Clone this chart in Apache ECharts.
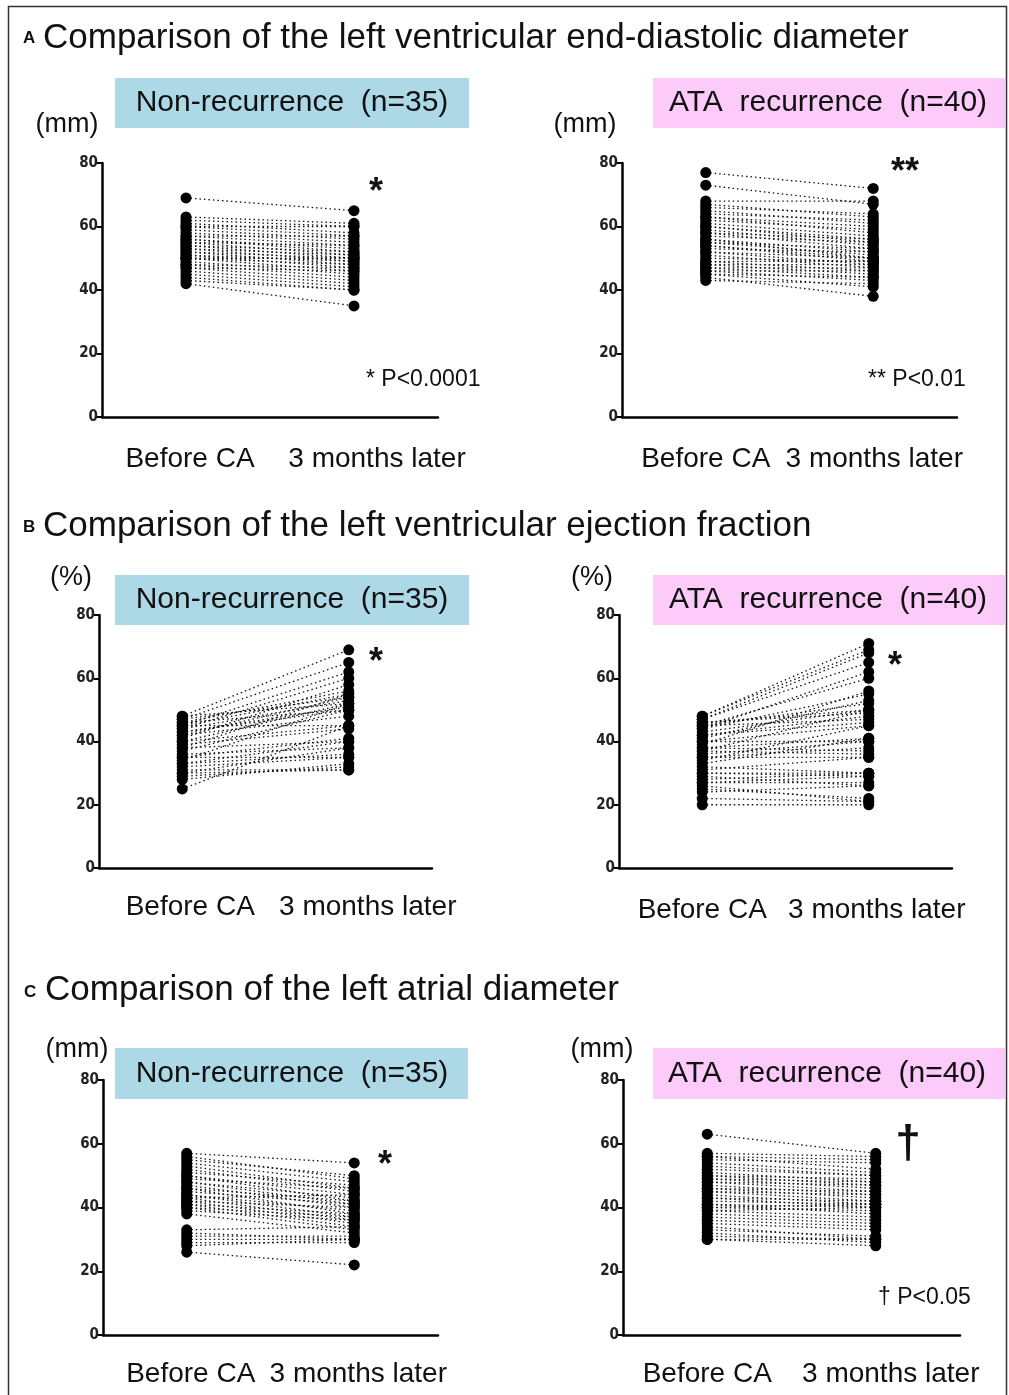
<!DOCTYPE html>
<html>
<head>
<meta charset="utf-8">
<title>LVDd, LVEF and LAD before and after CA</title>
<script src="https://cdn.jsdelivr.net/npm/echarts@6/dist/echarts.min.js"></script>
<style>
html, body { margin: 0; padding: 0; background: #fff; }
#chart { width: 1009px; height: 1395px; }
</style>
</head>
<body>
<div id="chart"></div>
<script>
// x categories and y ticks (shared by all six panels)
var groups = ['Before CA', '3 months later'];
var yMin = 0, yMax = 80, yStep = 20;

// A: LV end-diastolic diameter (mm), one value per patient, same order before / after
var lvddNonBefore = [69, 63, 62, 61, 60, 60, 59, 58, 57, 57, 56, 56, 55, 55, 54, 54, 53, 53, 52, 52, 51, 51, 50, 50, 50, 49, 48, 48, 47, 47, 46, 45, 44, 43, 42];
var lvddNonAfter  = [65, 61, 60, 58, 60, 57, 56, 55, 57, 54, 52, 53, 54, 51, 50, 52, 49, 51, 48, 50, 47, 49, 48, 46, 50, 45, 47, 44, 46, 43, 42, 41, 40, 40, 35];
var lvddAtaBefore = [77, 73, 68, 67, 66, 65, 64, 63, 63, 62, 61, 60, 60, 59, 58, 58, 57, 56, 56, 55, 55, 54, 54, 53, 52, 52, 51, 50, 49, 49, 48, 48, 47, 47, 46, 46, 45, 45, 44, 43];
var lvddAtaAfter  = [72, 67, 68, 63, 64, 61, 62, 60, 58, 59, 57, 55, 56, 54, 56, 53, 55, 52, 50, 51, 53, 49, 50, 52, 48, 50, 47, 49, 49, 46, 48, 45, 47, 44, 46, 43, 44, 41, 38, 42];

// B: LV ejection fraction (%)
var lvefNonBefore = [48, 48, 47, 47, 46, 46, 45, 45, 45, 44, 44, 43, 43, 42, 42, 41, 40, 40, 39, 38, 38, 37, 36, 35, 35, 34, 33, 33, 32, 31, 30, 30, 29, 28, 25];
var lvefNonAfter  = [69, 52, 65, 54, 50, 56, 62, 55, 45, 53, 60, 51, 50, 54, 48, 58, 45, 52, 44, 55, 40, 50, 38, 35, 41, 52, 36, 40, 35, 31, 38, 31, 32, 33, 45];
var lvefAtaBefore = [48, 48, 47, 47, 46, 46, 45, 45, 45, 44, 44, 43, 42, 42, 41, 40, 40, 39, 38, 38, 37, 37, 36, 35, 35, 34, 33, 32, 31, 30, 30, 29, 28, 27, 27, 26, 25, 24, 22, 20];
var lvefAtaAfter  = [71, 69, 68, 65, 50, 49, 60, 52, 47, 55, 62, 50, 48, 46, 53, 40, 45, 56, 37, 41, 50, 36, 40, 35, 38, 45, 41, 30, 35, 30, 29, 26, 30, 29, 27, 21, 22, 26, 21, 20];

// C: left atrial diameter (mm)
var ladNonBefore = [57, 56, 55, 54, 53, 52, 51, 50, 50, 49, 48, 48, 47, 46, 46, 45, 44, 44, 43, 43, 42, 42, 41, 41, 40, 40, 39, 38, 33, 32, 31, 30, 29, 28, 26];
var ladNonAfter  = [54, 49, 50, 48, 46, 45, 47, 44, 42, 46, 43, 41, 40, 42, 38, 41, 39, 37, 44, 36, 40, 35, 38, 34, 37, 33, 36, 32, 34, 30, 31, 30, 29, 30, 22];
var ladAtaBefore = [63, 57, 56, 56, 55, 54, 53, 52, 51, 50, 50, 49, 49, 48, 48, 47, 46, 46, 45, 45, 44, 43, 43, 42, 41, 41, 40, 40, 39, 39, 38, 37, 36, 35, 34, 33, 32, 31, 30, 30];
var ladAtaAfter  = [57, 56, 55, 52, 54, 51, 50, 50, 48, 47, 49, 48, 46, 47, 45, 44, 45, 43, 42, 44, 41, 40, 42, 41, 40, 38, 41, 39, 37, 40, 36, 35, 34, 33, 30, 31, 29, 30, 30, 28];

var sectionTitles = [
	'Comparison of the left ventricular end-diastolic diameter',
	'Comparison of the left ventricular ejection fraction',
	'Comparison of the left atrial diameter'
];
var groupTitles = ['Non-recurrence  (n=35)', 'ATA  recurrence  (n=40)'];

// panel layout: grid box, label shifts (px) for the two x labels
var panels = [
	{before: lvddNonBefore, after: lvddNonAfter, left: 102, top: 163, width: 336, height: 254, margin: 28, shift: [4, 23]},
	{before: lvddAtaBefore, after: lvddAtaAfter, left: 622, top: 163, width: 335, height: 254, margin: 28, shift: [0, 1]},
	{before: lvefNonBefore, after: lvefNonAfter, left: 99, top: 615, width: 333, height: 253, margin: 25, shift: [8, 19]},
	{before: lvefAtaBefore, after: lvefAtaAfter, left: 619, top: 615, width: 333, height: 253, margin: 28, shift: [0, 8]},
	{before: ladNonBefore, after: ladNonAfter, left: 103, top: 1080, width: 335, height: 255, margin: 25, shift: [4, 4]},
	{before: ladAtaBefore, after: ladAtaAfter, left: 623, top: 1080, width: 337, height: 255, margin: 25, shift: [0, 15]}
];

var myChart = echarts.init(document.getElementById('chart'));

var grids = [], xAxes = [], yAxes = [], series = [];
for (var i = 0; i < panels.length; i++) {
	var p = panels[i];
	grids.push({left: p.left, top: p.top, width: p.width, height: p.height, containLabel: false});
	xAxes.push({
		type: 'category',
		gridIndex: i,
		data: groups,
		boundaryGap: true,
		axisLine: {lineStyle: {color: '#000', width: 2.5}},
		axisTick: {alignWithLabel: true, length: 7, lineStyle: {color: '#000', width: 2}},
		axisLabel: {
			margin: p.margin,
			formatter: function (v, idx) {
				return '{l' + idx + '|' + v + '}';
			},
			rich: {
				l0: {fontFamily: 'Liberation Sans', fontSize: 28, color: '#111', padding: [0, 0, 0, 2 * p.shift[0]]},
				l1: {fontFamily: 'Liberation Sans', fontSize: 28, color: '#111', padding: [0, 0, 0, 2 * p.shift[1]]}
			}
		},
		splitLine: {show: false}
	});
	yAxes.push({
		type: 'value',
		gridIndex: i,
		min: yMin,
		max: yMax,
		interval: yStep,
		axisLine: {show: true, lineStyle: {color: '#000', width: 2.5}},
		axisTick: {show: true, length: 5, lineStyle: {color: '#000', width: 2}},
		axisLabel: {margin: 4, fontFamily: 'DejaVu Sans Condensed', fontWeight: 'bold', fontSize: 15, color: '#222'},
		splitLine: {show: false}
	});
	var dots = [];
	for (var j = 0; j < p.before.length; j++) {
		series.push({
			type: 'line',
			xAxisIndex: i,
			yAxisIndex: i,
			data: [p.before[j], p.after[j]],
			showSymbol: false,
			silent: true,
			lineStyle: {type: [1.5, 3], width: 1.3, color: '#111'},
			z: 2
		});
		dots.push([0, p.before[j]]);
		dots.push([1, p.after[j]]);
	}
	series.push({
		type: 'scatter',
		xAxisIndex: i,
		yAxisIndex: i,
		data: dots,
		symbol: 'circle',
		symbolSize: 11,
		itemStyle: {color: '#000', opacity: 1},
		silent: true,
		z: 3
	});
}

function txt(x, y, s, font, align) {
	return {
		type: 'text',
		style: {x: x, y: y, text: s, font: font, fill: '#111', textAlign: align || 'left', textVerticalAlign: 'middle'}
	};
}
function box(x, y, w, h, color) {
	return {type: 'rect', shape: {x: x, y: y, width: w, height: h}, style: {fill: color}, z: -1};
}

var titleFont = '35px "Liberation Sans"';
var boxFont = '30px "Liberation Sans"';
var unitFont = '27px "Liberation Sans"';
var letterFont = 'bold 17px "Liberation Sans"';
var noteFont = '23px "Liberation Sans"';
var starFont = 'bold 36px "Liberation Sans"';

var graphics = [
	{type: 'rect', shape: {x: 8.5, y: 6.5, width: 998, height: 1400}, style: {fill: null, stroke: '#333', lineWidth: 1.5}},
	// section A
	txt(23, 38, 'A', letterFont), txt(43, 38, sectionTitles[0], titleFont),
	box(115, 78, 354, 50, '#add8e6'), txt(292, 103, groupTitles[0], boxFont, 'center'),
	box(653, 78, 352, 50, '#fdcbfa'), txt(828, 103, groupTitles[1], boxFont, 'center'),
	txt(67, 125, '(mm)', unitFont, 'center'), txt(585, 125, '(mm)', unitFont, 'center'),
	txt(376, 193, '*', starFont, 'center'), txt(905, 173, '**', starFont, 'center'),
	txt(366, 380, '* P<0.0001', noteFont), txt(868, 380, '** P<0.01', noteFont),
	// section B
	txt(23, 527, 'B', letterFont), txt(43, 526, sectionTitles[1], titleFont),
	box(115, 575, 354, 50, '#add8e6'), txt(292, 600, groupTitles[0], boxFont, 'center'),
	box(653, 575, 352, 50, '#fdcbfa'), txt(828, 600, groupTitles[1], boxFont, 'center'),
	txt(71, 578, '(%)', unitFont, 'center'), txt(592, 578, '(%)', unitFont, 'center'),
	txt(376, 663, '*', starFont, 'center'), txt(895, 667, '*', starFont, 'center'),
	// section C
	txt(24, 992, 'C', letterFont), txt(45, 990, sectionTitles[2], titleFont),
	box(115, 1048, 353, 51, '#add8e6'), txt(292, 1074, groupTitles[0], boxFont, 'center'),
	box(653, 1048, 352, 51, '#fdcbfa'), txt(827, 1074, groupTitles[1], boxFont, 'center'),
	txt(77, 1050, '(mm)', unitFont, 'center'), txt(602, 1050, '(mm)', unitFont, 'center'),
	txt(385, 1166, '*', starFont, 'center'), txt(908, 1145, '\u2020', 'bold 46px "Liberation Sans"', 'center'),
	txt(878, 1298, '\u2020 P<0.05', noteFont)
];

var option = {
	animation: false,
	backgroundColor: '#fff',
	grid: grids,
	xAxis: xAxes,
	yAxis: yAxes,
	series: series,
	graphic: graphics
};
myChart.setOption(option);
</script>
</body>
</html>
